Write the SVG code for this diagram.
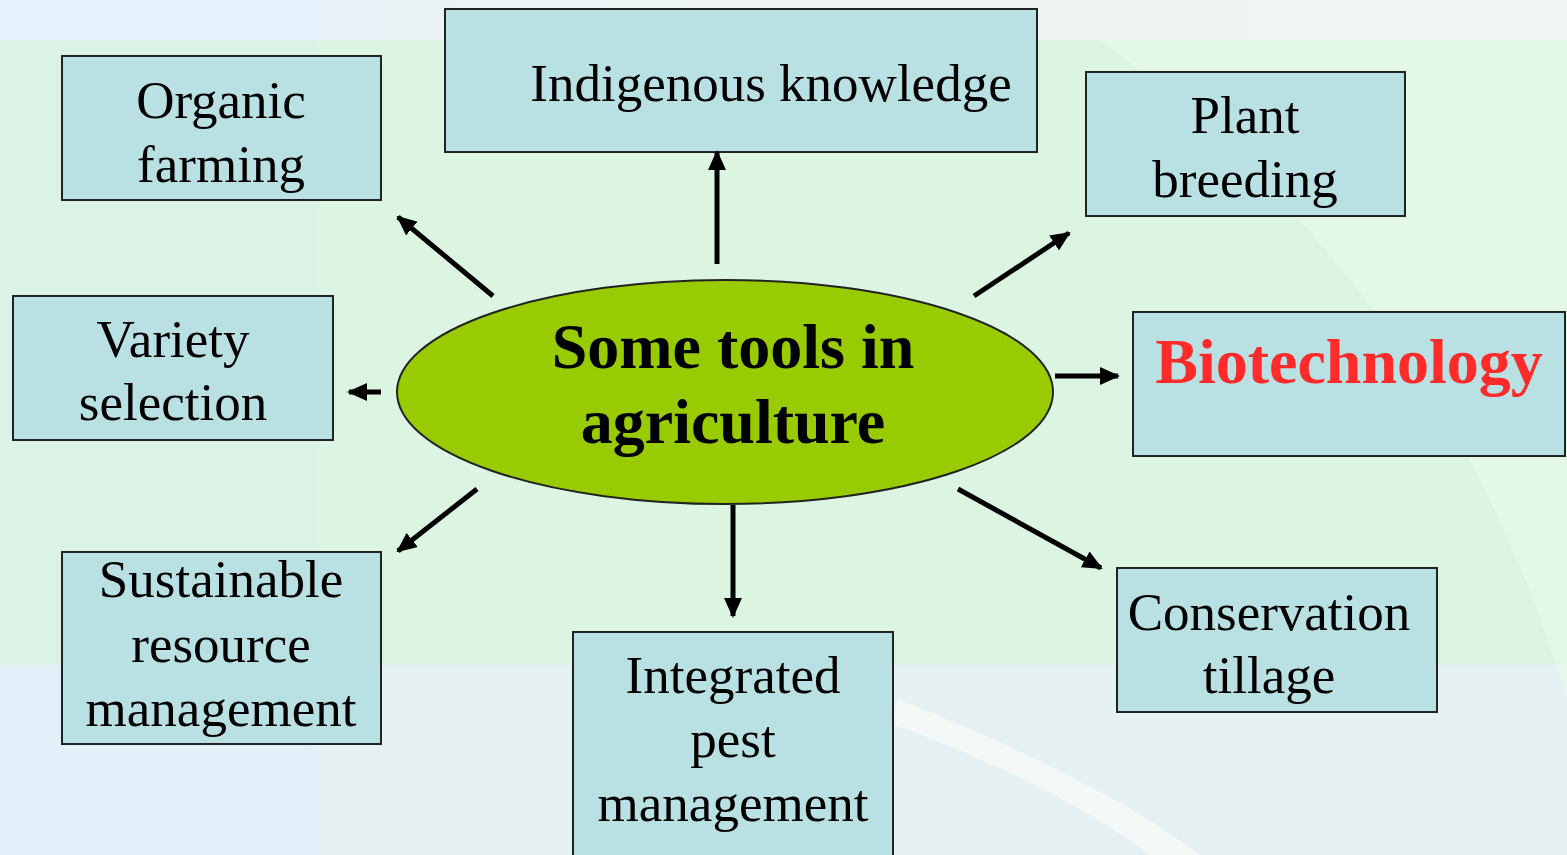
<svg xmlns="http://www.w3.org/2000/svg" width="1567" height="855" viewBox="0 0 1567 855">
<defs>
<marker id="ah" markerUnits="userSpaceOnUse" markerWidth="20" markerHeight="18" refX="18" refY="9" orient="auto">
<path d="M0,0 L20,9 L0,18 Z" fill="#000"/>
</marker>
<linearGradient id="gtop" x1="0" x2="1" y1="0" y2="0">
<stop offset="0" stop-color="#e3f2fb"/><stop offset="0.5" stop-color="#eef4f2"/><stop offset="1" stop-color="#f0f4f3"/>
</linearGradient>
</defs>
<style>
.box{fill:#b9e0e3;stroke:#222;stroke-width:2}
.t{font-family:"Liberation Serif","Times New Roman",serif;font-size:53px;fill:#000;text-anchor:middle}
.b{font-family:"Liberation Serif","Times New Roman",serif;font-size:64px;font-weight:bold;text-anchor:middle}
.conn line{stroke:#000;stroke-width:5;marker-end:url(#ah)}
</style>
<g id="background">
<rect x="0" y="0" width="1567" height="855" fill="#dcf5e2"/>
<rect x="0" y="0" width="1567" height="40" fill="url(#gtop)"/>
<rect x="0" y="0" width="318" height="40" fill="#e3f2fb"/>
<rect x="0" y="40" width="318" height="625" fill="#daf3e6"/>
<rect x="0" y="665" width="1567" height="190" fill="#e5f1f2"/>
<rect x="0" y="665" width="318" height="190" fill="#e2f1f9"/>
<path d="M1100,40 Q1450,300 1567,700 L1567,40 Z" fill="#e6fbe8" opacity="0.7"/>
<path d="M900,700 Q1100,780 1200,855 L1150,855 Q1050,780 880,720 Z" fill="#f6faf8" opacity="0.8"/>
</g>
<g id="center">
<ellipse cx="725" cy="392" rx="328" ry="112" fill="#99cc00" stroke="#222" stroke-width="2"/>
<text class="b" x="733" y="368">Some tools in</text>
<text class="b" x="733" y="443">agriculture</text>
</g>
<g id="organic">
<rect class="box" x="62" y="56" width="319" height="144"/>
<text class="t" x="221" y="118">Organic</text>
<text class="t" x="221" y="182">farming</text>
</g>
<g id="indigenous">
<rect class="box" x="445" y="9" width="592" height="143"/>
<text class="t" x="771" y="101">Indigenous knowledge</text>
</g>
<g id="plant">
<rect class="box" x="1086" y="72" width="319" height="144"/>
<text class="t" x="1245" y="133">Plant</text>
<text class="t" x="1245" y="197">breeding</text>
</g>
<g id="variety">
<rect class="box" x="13" y="296" width="320" height="144"/>
<text class="t" x="173" y="357">Variety</text>
<text class="t" x="173" y="420">selection</text>
</g>
<g id="biotech">
<rect class="box" x="1133" y="312" width="432" height="144"/>
<text class="b" x="1349" y="383" fill="#ff2a2a">Biotechnology</text>
</g>
<g id="sustainable">
<rect class="box" x="62" y="552" width="319" height="192"/>
<text class="t" x="221" y="597">Sustainable</text>
<text class="t" x="221" y="662">resource</text>
<text class="t" x="221" y="726">management</text>
</g>
<g id="ipm">
<rect class="box" x="573" y="632" width="320" height="230"/>
<text class="t" x="733" y="693">Integrated</text>
<text class="t" x="733" y="757">pest</text>
<text class="t" x="733" y="821">management</text>
</g>
<g id="conservation">
<rect class="box" x="1117" y="568" width="320" height="144"/>
<text class="t" x="1269" y="630">Conservation</text>
<text class="t" x="1269" y="693">tillage</text>
</g>
<g id="connectors" class="conn">
<line x1="717" y1="264" x2="717" y2="152"/>
<line x1="493" y1="296" x2="398" y2="217"/>
<line x1="974" y1="296" x2="1069" y2="233"/>
<line x1="381" y1="392" x2="349" y2="392"/>
<line x1="1055" y1="376" x2="1118" y2="376"/>
<line x1="477" y1="489" x2="398" y2="551"/>
<line x1="733" y1="505" x2="733" y2="616"/>
<line x1="958" y1="489" x2="1101" y2="568"/>
</g>
</svg>
